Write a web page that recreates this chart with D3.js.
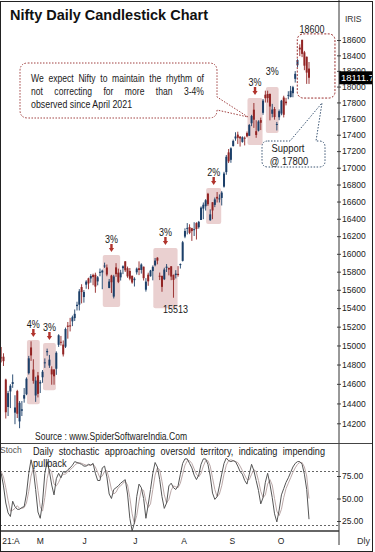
<!DOCTYPE html>
<html>
<head>
<meta charset="utf-8">
<script src="https://cdn.jsdelivr.net/npm/d3@7"></script>
<style>
  html, body { margin: 0; padding: 0; background: #fff; }
  svg { display: block; }
</style>
</head>
<body>
<svg id="chart" width="375" height="552"></svg>
<script>
// Nifty daily candles, 8 Apr - 22 Oct 2021
const dates = ['04-08','04-09','04-12','04-13','04-15','04-16','04-19','04-20','04-22','04-23','04-26','04-27','04-28','04-29','04-30',
  '05-03','05-04','05-05','05-06','05-07','05-10','05-11','05-12','05-14','05-17','05-18','05-19','05-20','05-21','05-24','05-25','05-26','05-27','05-28','05-31',
  '06-01','06-02','06-03','06-04','06-07','06-08','06-09','06-10','06-11','06-14','06-15','06-16','06-17','06-18','06-21','06-22','06-23','06-24','06-25','06-28','06-29','06-30',
  '07-01','07-02','07-05','07-06','07-07','07-08','07-09','07-12','07-13','07-14','07-15','07-16','07-19','07-20','07-22','07-23','07-26','07-27','07-28','07-29','07-30',
  '08-02','08-03','08-04','08-05','08-06','08-09','08-10','08-11','08-12','08-13','08-16','08-17','08-18','08-20','08-23','08-24','08-25','08-26','08-27','08-30','08-31',
  '09-01','09-02','09-03','09-06','09-07','09-08','09-09','09-13','09-14','09-15','09-16','09-17','09-20','09-21','09-22','09-23','09-24','09-27','09-28','09-29','09-30',
  '10-01','10-04','10-05','10-06','10-07','10-08','10-11','10-12','10-13','10-14','10-18','10-19','10-20','10-21','10-22'];

const opens = [14875,14882,14644,14364,14522,14599,14307,14526,14219,14326,14449,14493,14710,14979,14748,
  14481,14687,14604,14668,14816,14929,14789,14750,14749,14756,15007,15039,15009,14987,15211,15213,15257,15292,15422,15437,
  15630,15520,15656,15726,15725,15764,15766,15692,15796,15791,15867,15847,15620,15757,15525,15848,15789,15737,15839,15916,15839,15808,
  15755,15706,15793,15839,15819,15856,15601,15767,15749,15807,15872,15956,15755,15754,15716,15843,15842,15860,15764,15763,15776,
  15874,15921,16195,16288,16304,16291,16274,16350,16303,16386,16518,16545,16691,16383,16592,16561,16655,16627,16642,16775,16948,
  17185,17095,17262,17354,17401,17375,17312,17363,17420,17387,17541,17709,17443,17450,17580,17670,17897,17906,17906,17658,17718,
  17531,17615,17661,17862,17810,17886,17867,17916,18098,18272,18500,18602,18439,18382,18230];

const highs = [14984,14918,14653,14528,14597,14697,14483,14539,14424,14424,14557,14667,14890,15044,14855,
  14673,14723,14637,14743,14864,14967,14900,14781,14749,14938,15119,15101,15053,15190,15250,15294,15319,15385,15469,15607,
  15661,15597,15705,15733,15773,15778,15789,15752,15835,15823,15901,15880,15719,15765,15765,15895,15834,15821,15870,15916,15857,15841,
  15755,15738,15846,15915,15893,15856,15728,15789,15820,15870,15953,15962,15790,15754,15844,15885,15845,15862,15768,15817,15862,
  15892,16146,16290,16350,16336,16296,16360,16360,16375,16543,16589,16628,16702,16509,16592,16647,16712,16684,16722,16951,17153,
  17225,17246,17340,17430,17437,17384,17380,17378,17439,17532,17645,17793,17578,17578,17611,17843,17948,17948,17913,17782,17743,
  17557,17712,17832,17884,17857,17941,18008,18009,18197,18350,18543,18604,18458,18384,18314];

const lows = [14822,14785,14248,14273,14353,14559,14191,14253,14151,14273,14408,14484,14696,14838,14602,
  14416,14461,14506,14611,14765,14892,14765,14591,14591,14693,14985,14999,14884,14973,15072,15149,15206,15261,15374,15374,
  15451,15459,15611,15606,15678,15650,15567,15649,15749,15606,15842,15749,15617,15565,15505,15742,15673,15702,15773,15797,15732,15704,
  15667,15636,15768,15762,15779,15702,15580,15644,15745,15704,15860,15882,15707,15578,15707,15797,15759,15706,15513,15725,15745,
  15835,15914,16177,16220,16223,16146,16202,16162,16286,16386,16395,16495,16549,16376,16395,16535,16589,16589,16554,16764,16916,
  17056,17059,17255,17326,17287,17255,17302,17269,17367,17386,17505,17484,17362,17440,17457,17646,17799,17798,17577,17614,17585,
  17452,17579,17640,17613,17763,17840,17864,17865,18051,18248,18390,18377,18209,18034,18034];

const closes = [14873,14835,14311,14505,14581,14618,14359,14296,14406,14341,14485,14653,14865,14895,14631,
  14634,14497,14618,14725,14823,14942,14851,14697,14678,14923,15108,15030,14906,15175,15198,15208,15301,15338,15436,15583,
  15575,15576,15690,15670,15752,15740,15635,15738,15799,15812,15869,15768,15691,15683,15747,15773,15687,15790,15860,15815,15748,15722,
  15680,15722,15834,15818,15880,15728,15690,15693,15812,15854,15924,15923,15752,15632,15824,15856,15824,15746,15709,15778,15763,
  15885,16131,16259,16295,16238,16258,16280,16282,16364,16529,16563,16615,16569,16451,16496,16625,16635,16637,16705,16931,17132,
  17076,17234,17324,17378,17362,17354,17369,17355,17380,17519,17630,17585,17397,17562,17547,17823,17853,17855,17749,17711,17618,
  17532,17691,17822,17646,17790,17895,17946,17992,18162,18339,18477,18419,18267,18178,18112];

// Daily stochastic
const stochK = [78,64,45,34,30,47,41,38,38,40,41,55,78,93,82,60,35,28,46,78,91,80,65,54,72,78,73,80,79,82,
  84,87,91,90,89,88,86,86,88,87,89,78,70,70,84,86,74,55,50,60,62,64,67,69,71,55,28,14,23,52,
  66,62,50,28,43,60,78,90,85,71,52,39,45,64,67,62,60,64,77,89,94,94,89,84,76,71,76,88,94,94,
  88,75,56,49,52,64,77,89,95,92,91,92,91,86,80,77,70,66,77,88,81,70,59,44,51,68,78,66,51,33,
  24,37,54,61,68,73,79,85,89,91,91,88,77,60,27];
const stochD = [80,74,62,48,36,37,39,42,39,39,40,45,58,75,84,78,59,41,36,51,72,83,79,66,64,68,74,77,77,80,
  82,84,87,89,90,89,88,87,87,87,88,85,79,73,75,80,81,72,60,55,57,62,64,67,69,65,51,33,22,31,
  47,60,59,47,40,44,60,76,84,82,69,54,45,49,59,64,63,62,67,77,87,92,92,89,83,77,74,78,86,92,
  92,86,73,60,52,55,64,77,87,92,93,92,91,90,86,81,76,71,71,77,82,80,70,58,51,54,66,71,65,50,
  36,31,38,51,61,67,73,79,84,88,90,90,85,75,50];

const priceTicks = [14200,14400,14600,14800,15000,15200,15400,15600,15800,16000,16200,16400,16600,16800,17000,17200,17400,17600,17800,18000,18200,18400,18600];
const stochTicks = [25, 50, 75];
const stochLevels = [80, 20];
const monthLabels = ['21:A','M','J','J','A','S','O'];

// Shaded pullback zones: first/last candle, price top/bottom, label
const zoneFrom = [12, 19, 45, 67, 90, 108, 116];
const zoneTo = [16, 23, 51, 76, 95, 113, 120];
const zoneTop = [15057, 15025, 15986, 16065, 16758, 17855, 17994];
const zoneBottom = [14393, 14535, 15412, 15398, 16339, 17274, 17421];
const zoneLabels = ['4%', '3%', '3%', '3%', '2%', '3%', '3%'];
const zoneArrow = [true, true, true, true, true, true, false];

// Dashed target box round the October top
const targetIdx = [128.9, 145.3];
const targetPrice = [18680, 17855];
const lastPrice = 18111.7;

const svg = d3.select('#chart');
const narrow = "'Liberation Sans Narrow','Arial Narrow','Liberation Sans',Arial,sans-serif";
const sans = "'Liberation Sans',Arial,sans-serif";
const blue = '#1c3f69';
const red = '#922424';
const axisX = 339;

const x = d3.scaleLinear().domain([0, dates.length - 1]).range([1.2, 309]);
const y = d3.scaleLog().domain([14200, 18600]).range([423.3, 40]);
const ys = d3.scaleLinear().domain([0, 100]).range([543.5, 453.5]);

svg.append('rect').attr('width', 375).attr('height', 552).attr('fill', '#fff');

const defs = svg.append('defs');
defs.append('clipPath').attr('id', 'clipPrice')
  .append('rect').attr('x', 1).attr('y', 2).attr('width', axisX - 1).attr('height', 441);
defs.append('clipPath').attr('id', 'clipStoch')
  .append('rect').attr('x', 1).attr('y', 444).attr('width', axisX - 1).attr('height', 87);

// width ratio of the condensed annotation font
const probe = svg.append('text').attr('font-family', narrow).attr('font-size', 11).text('observed since April 2021');
const ratio = Math.max(0.7, Math.min(1.15, 103 / probe.node().getComputedTextLength()));
probe.remove();

const nText = function (g, str, tx, ty, size, anchor) {
  const t = g.append('text')
    .attr('x', tx).attr('y', ty)
    .attr('font-family', narrow).attr('font-size', size)
    .attr('text-anchor', anchor || 'start')
    .attr('fill', '#1a1a1a')
    .text(str);
  if (Math.abs(ratio - 1) > 0.03) {
    t.attr('textLength', t.node().getComputedTextLength() * ratio).attr('lengthAdjust', 'spacingAndGlyphs');
  }
  return t;
};

// spread words across a fixed width, like the justified notes
const justify = function (g, str, x0, x1, ty, size) {
  const words = str.split(' ');
  const nodes = words.map((w) => g.append('text')
    .attr('y', ty).attr('font-family', narrow).attr('font-size', size)
    .attr('fill', '#1a1a1a').text(w));
  const widths = nodes.map((n) => n.node().getComputedTextLength() * ratio);
  const gap = (x1 - x0 - d3.sum(widths)) / (words.length - 1);
  let cx = x0;
  nodes.forEach((n, i) => {
    n.attr('x', cx);
    if (Math.abs(ratio - 1) > 0.03) n.attr('textLength', widths[i]).attr('lengthAdjust', 'spacingAndGlyphs');
    cx += widths[i] + gap;
  });
};

// Price panel
const price = svg.append('g').attr('clip-path', 'url(#clipPrice)');

const zones = zoneFrom.map((f, i) => ({ from: f, to: zoneTo[i], top: zoneTop[i], bottom: zoneBottom[i], label: zoneLabels[i], arrow: zoneArrow[i] }));

price.selectAll('rect.zone')
  .data(zones)
  .enter()
  .append('rect')
  .attr('class', 'zone')
  .attr('x', (d) => x(d.from) - 1.8)
  .attr('y', (d) => y(d.top))
  .attr('width', (d) => x(d.to) - x(d.from) + 3.6)
  .attr('height', (d) => y(d.bottom) - y(d.top))
  .attr('rx', 2)
  .attr('fill', '#ead0d0');

const candles = dates.map((d, i) => ({ i, o: opens[i], h: highs[i], l: lows[i], c: closes[i] }));

const candle = price.selectAll('g.candle')
  .data(candles)
  .enter()
  .append('g')
  .attr('class', 'candle');

candle.append('line')
  .attr('x1', (d) => x(d.i))
  .attr('x2', (d) => x(d.i))
  .attr('y1', (d) => y(d.h))
  .attr('y2', (d) => y(d.l))
  .attr('stroke', (d) => (d.c >= d.o ? blue : red))
  .attr('stroke-width', 0.9);

candle.append('rect')
  .attr('x', (d) => x(d.i) - 1)
  .attr('y', (d) => y(Math.max(d.o, d.c)))
  .attr('width', 2)
  .attr('height', (d) => Math.max(1, y(Math.min(d.o, d.c)) - y(Math.max(d.o, d.c))))
  .attr('fill', (d) => (d.c >= d.o ? blue : red));

// Percent labels and arrows over each zone
const notes = svg.append('g');
zones.forEach((z) => {
  const cx = (x(z.from) + x(z.to)) / 2;
  const top = y(z.top);
  nText(notes, z.label, cx, top - 12, 11, 'middle');
  if (z.arrow) {
    const tip = top - 3;
    notes.append('path')
      .attr('d', `M${cx - 1.2},${tip - 8} h2.4 v4 h1.4 L${cx},${tip} L${cx - 2.6},${tip - 4} h1.4 Z`)
      .attr('fill', '#b0332c');
  }
});

// Peak and trough values
const peakIdx = d3.maxIndex(highs);
const troughIdx = d3.minIndex(lows.slice(60, 80)) + 60;
nText(notes, '18600', x(peakIdx) + 10, y(highs[peakIdx]) - 7, 11, 'middle');
nText(notes, '15513', x(troughIdx) + 2, y(lows[troughIdx]) + 15, 11, 'middle');

// Dashed target box
notes.append('rect')
  .attr('x', x(targetIdx[0]))
  .attr('y', y(targetPrice[0]))
  .attr('width', x(targetIdx[1]) - x(targetIdx[0]))
  .attr('height', y(targetPrice[1]) - y(targetPrice[0]))
  .attr('rx', 6)
  .attr('fill', 'none')
  .attr('stroke', '#9b3030')
  .attr('stroke-width', 1)
  .attr('stroke-dasharray', '2,1.5');

// Callout with the view
notes.append('path')
  .attr('d', 'M28,63 H209 Q217,63 217,71 V97 L248,117 L217,110 Q217,118 209,118 H28 Q20,118 20,110 V71 Q20,63 28,63 Z')
  .attr('fill', '#fff')
  .attr('stroke', '#a04040')
  .attr('stroke-width', 1)
  .attr('stroke-dasharray', '1.5,1.5');
justify(notes, 'We expect Nifty to maintain the rhythm of', 31, 204, 82, 10.5);
justify(notes, 'not correcting for more than 3-4%', 31, 204, 95, 10.5);
nText(notes, 'observed since April 2021', 31, 107.5, 10.8);

// Support callout
notes.append('path')
  .attr('d', 'M268,141 H290 L322,103 L316,141 H319 Q325,141 325,147 V161 Q325,167 319,167 H268 Q262,167 262,161 V147 Q262,141 268,141 Z')
  .attr('fill', '#fff')
  .attr('stroke', '#3b5573')
  .attr('stroke-width', 1)
  .attr('stroke-dasharray', '1.5,1.5');
nText(notes, 'Support', 288, 152, 11.5, 'middle');
nText(notes, '@ 17800', 289, 164.5, 11.5, 'middle');

// Title and credits
svg.append('text')
  .attr('x', 10).attr('y', 19.5)
  .attr('font-family', sans).attr('font-size', 15).attr('font-weight', 'bold')
  .attr('textLength', 198).attr('lengthAdjust', 'spacingAndGlyphs')
  .attr('fill', '#111')
  .text('Nifty Daily Candlestick Chart');

svg.append('text')
  .attr('x', 35).attr('y', 439.5)
  .attr('font-family', narrow).attr('font-size', 10)
  .attr('textLength', 152).attr('lengthAdjust', 'spacingAndGlyphs')
  .attr('fill', '#222')
  .text('Source : www.SpiderSoftwareIndia.Com');

// Right price axis
const axisG = svg.append('g')
  .attr('transform', `translate(${axisX},0)`)
  .call(d3.axisRight(y).tickValues(priceTicks).tickFormat(d3.format('d')).tickSize(2));
axisG.select('.domain').remove();
axisG.selectAll('.tick line').attr('x1', -2).attr('x2', 2).attr('stroke', '#444');
axisG.selectAll('.tick text')
  .attr('x', 3)
  .attr('font-family', sans).attr('font-size', 8.5).attr('fill', '#222');

svg.append('text')
  .attr('x', 345).attr('y', 21.5)
  .attr('font-family', sans).attr('font-size', 8.5).attr('fill', '#333')
  .text('IRIS');

// Last price tag
svg.append('rect')
  .attr('x', axisX).attr('y', y(lastPrice) - 6.5)
  .attr('width', 34).attr('height', 13)
  .attr('fill', '#000');
svg.append('text')
  .attr('x', axisX + 2).attr('y', y(lastPrice) + 3.5)
  .attr('font-family', sans).attr('font-size', 9.5).attr('fill', '#fff')
  .text(d3.format('.1f')(lastPrice));

// Stochastic panel
const stoch = svg.append('g').attr('clip-path', 'url(#clipStoch)');

stoch.selectAll('line.level')
  .data(stochLevels)
  .enter()
  .append('line')
  .attr('class', 'level')
  .attr('x1', 0).attr('x2', axisX)
  .attr('y1', (d) => ys(d)).attr('y2', (d) => ys(d))
  .attr('stroke', '#666')
  .attr('stroke-dasharray', '2,2');

const stochLine = d3.line().x((d, i) => x(i)).y((d) => ys(d));

stoch.append('path')
  .datum(stochD)
  .attr('d', stochLine)
  .attr('fill', 'none')
  .attr('stroke', '#bba8a8')
  .attr('stroke-width', 1);

stoch.append('path')
  .datum(stochK)
  .attr('d', stochLine)
  .attr('fill', 'none')
  .attr('stroke', '#555')
  .attr('stroke-width', 1);

const stochAxis = svg.append('g')
  .attr('transform', `translate(${axisX},0)`)
  .call(d3.axisRight(ys).tickValues(stochTicks).tickFormat(d3.format('.2f')).tickSize(2));
stochAxis.select('.domain').remove();
stochAxis.selectAll('.tick line').attr('x1', -2).attr('x2', 2).attr('stroke', '#444');
stochAxis.selectAll('.tick text')
  .attr('x', 3)
  .attr('font-family', sans).attr('font-size', 8.5).attr('fill', '#222');

svg.append('text')
  .attr('x', 0).attr('y', 453)
  .attr('font-family', sans).attr('font-size', 8.5).attr('fill', '#555')
  .text('Stoch');

justify(svg, 'Daily stochastic approaching oversold territory, indicating impending', 33, 325, 455, 11.2);
nText(svg, 'pullback', 33, 467, 11.2);

// Month labels along the bottom
const monthStarts = dates
  .map((d, i) => (i === 0 || d.slice(0, 2) !== dates[i - 1].slice(0, 2) ? i : -1))
  .filter((i) => i >= 0);

svg.selectAll('text.month')
  .data(monthStarts)
  .enter()
  .append('text')
  .attr('class', 'month')
  .attr('x', (d) => x(d) + 1)
  .attr('y', 543.5)
  .attr('font-family', sans).attr('font-size', 8.5).attr('fill', '#222')
  .text((d, i) => monthLabels[i]);

svg.append('text')
  .attr('x', 357).attr('y', 544)
  .attr('font-family', sans).attr('font-size', 9).attr('fill', '#333')
  .text('Dly');

// Frame and panel rules
svg.append('line')
  .attr('x1', axisX).attr('x2', axisX).attr('y1', 0).attr('y2', 545)
  .attr('stroke', '#333');
svg.append('line')
  .attr('x1', 0).attr('x2', 373).attr('y1', 443.5).attr('y2', 443.5)
  .attr('stroke', '#444');
svg.append('line')
  .attr('x1', 0).attr('x2', axisX).attr('y1', 531).attr('y2', 531)
  .attr('stroke', '#333').attr('stroke-width', 1.5);
svg.append('rect')
  .attr('x', 0.5).attr('y', 1.5)
  .attr('width', 372).attr('height', 550)
  .attr('fill', 'none')
  .attr('stroke', '#222');
</script>
</body>
</html>
